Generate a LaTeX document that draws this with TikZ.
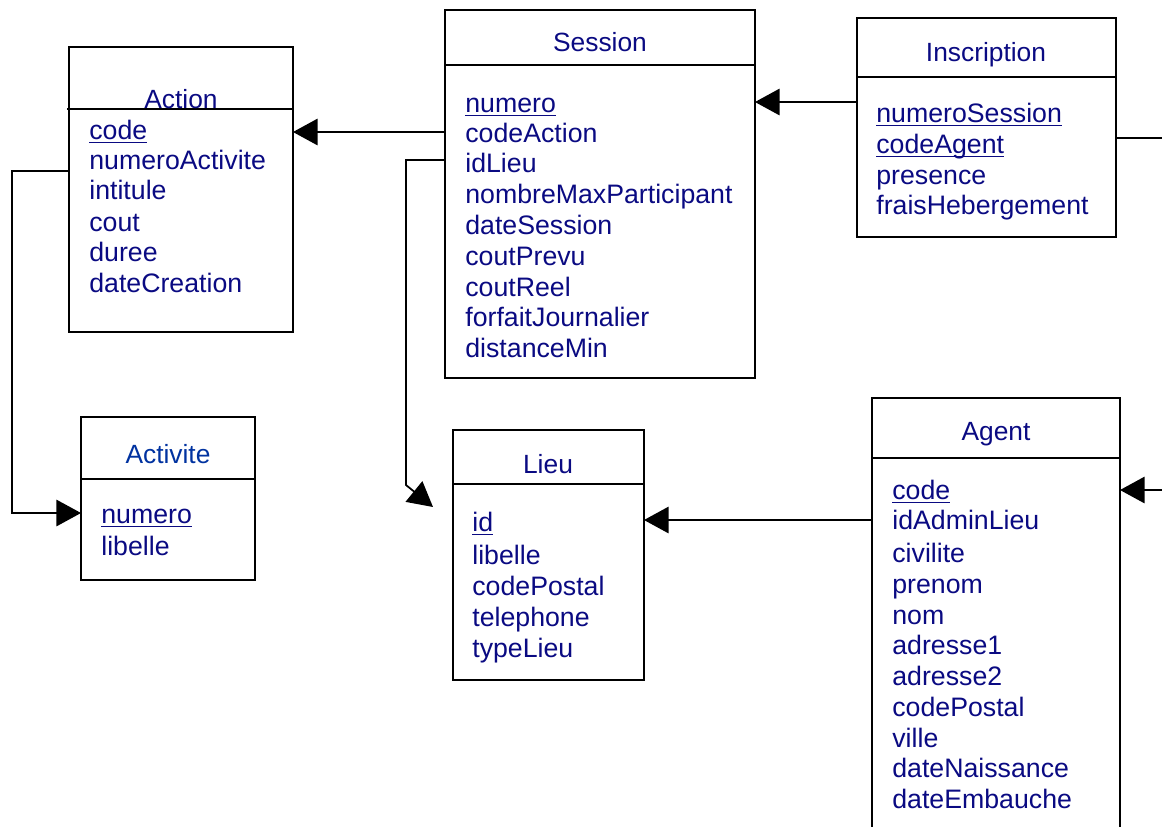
\documentclass[tikz,border=0pt]{standalone}
\usepackage{fontspec}
\setmainfont{Liberation Sans}
\usetikzlibrary{arrows.meta}
\definecolor{navy}{RGB}{10,10,130}
\definecolor{royal}{RGB}{0,50,160}
\newcommand{\cle}[1]{\underline{\smash{#1}}}
\tikzset{entity/.style = {draw, line width=1pt, inner sep=0pt, outer sep=0pt}}
\tikzset{title/.style = {text=navy, font=\fontsize{15}{18}\selectfont}}
\tikzset{attr/.style = {anchor=west, text=navy, yshift=-0.1cm, inner sep=0pt, text height=0.75em, text depth=0.25em, font=\fontsize{15.2}{18}\selectfont}}
\tikzset{edge/.style = {->, >={Triangle[length=14pt,width=15pt]}, line width=1pt}}

\begin{document}
\begin{tikzpicture}[x=0.02cm,y=-0.02cm]
\useasboundingbox (0,0) rectangle (1162,826);

% Action
\node[entity, minimum width=4.48cm, minimum height=5.7cm] (action) at (181,189.5) {};
\draw[entity] (67,109) -- (action.east |- 0,109);
\node[title] (actionT) at (181,99) {Action};
\node[attr] (a1) at (89,130) {\cle{code}};
\node[attr] (a2) at (89,160) {numeroActivite};
\node[attr] (a3) at (89,190) {intitule};
\node[attr] (a4) at (89,222) {cout};
\node[attr] (a5) at (89,252) {duree};
\node[attr] (a6) at (89,283) {dateCreation};

% Session
\node[entity, minimum width=6.2cm, minimum height=7.36cm] (session) at (600,194) {};
\draw[entity] (session.west |- 0,65) -- (session.east |- 0,65);
\node[title] (sessionT) at (600,42) {Session};
\node[attr] (s1) at (465,103) {\cle{numero}};
\node[attr] (s2) at (465,133) {codeAction};
\node[attr] (s3) at (465,163) {idLieu};
\node[attr] (s4) at (465,194) {nombreMaxParticipant};
\node[attr] (s5) at (465,225) {dateSession};
\node[attr] (s6) at (465,256) {coutPrevu};
\node[attr] (s7) at (465,287) {coutReel};
\node[attr] (s8) at (465,317) {forfaitJournalier};
\node[attr] (s9) at (465,348) {distanceMin};

% Inscription
\node[entity, minimum width=5.18cm, minimum height=4.38cm] (inscription) at (986.5,127.5) {};
\draw[entity] (inscription.west |- 0,77) -- (inscription.east |- 0,77);
\node[title] (inscriptionT) at (986,55) {Inscription};
\node[attr] (i1) at (876,113) {\cle{numeroSession}};
\node[attr] (i2) at (876,144) {\cle{codeAgent}};
\node[attr] (i3) at (876,175) {presence};
\node[attr] (i4) at (876,205) {fraisHebergement};

% Activite
\node[entity, minimum width=3.48cm, minimum height=3.26cm] (activite) at (168,498.5) {};
\draw[entity] (activite.west |- 0,479) -- (activite.east |- 0,479);
\node[title, text=royal] (activiteT) at (168,454) {Activite};
\node[attr] (v1) at (101,514) {\cle{numero}};
\node[attr] (v2) at (101,546) {libelle};

% Lieu
\node[entity, minimum width=3.82cm, minimum height=5cm] (lieu) at (548.5,555) {};
\draw[entity] (lieu.west |- 0,484) -- (lieu.east |- 0,484);
\node[title] (lieuT) at (548,464) {Lieu};
\node[attr] (l1) at (472,522) {\cle{id}};
\node[attr] (l2) at (472,555) {libelle};
\node[attr] (l3) at (472,586) {codePostal};
\node[attr] (l4) at (472,617) {telephone};
\node[attr] (l5) at (472,648) {typeLieu};

% Agent
\node[entity, minimum width=4.96cm, minimum height=9.24cm] (agent) at (996,629) {};
\draw[entity] (agent.west |- 0,458) -- (agent.east |- 0,458);
\node[title] (agentT) at (996,434) {Agent};
\node[attr] (g1) at (892,490) {\cle{code}};
\node[attr] (g2) at (892,520) {idAdminLieu};
\node[attr] (g3) at (892,553) {civilite};
\node[attr] (g4) at (892,584) {prenom};
\node[attr] (g5) at (892,615) {nom};
\node[attr] (g6) at (892,645) {adresse1};
\node[attr] (g7) at (892,676) {adresse2};
\node[attr] (g8) at (892,707) {codePostal};
\node[attr] (g9) at (892,738) {ville};
\node[attr] (g10) at (892,768) {dateNaissance};
\node[attr] (g11) at (892,799) {dateEmbauche};

% liens
\coordinate (coin1) at (12,171);
\coordinate (coin2) at (406,485);
\coordinate (lieuTip) at (433,507);
\coordinate (insc) at (857,102);
\coordinate (horsA) at (1170,138);
\coordinate (horsB) at (1170,490);
\coordinate (actRef) at (0,132);
\coordinate (lieuRef) at (0,160);
\coordinate (actiRef) at (0,513);
\coordinate (agRef) at (0,520);

\draw[edge] (session.west |- actRef) -- (action.east |- actRef);
\draw[edge] (action.west |- coin1) -- (coin1) |- (activite.west |- actiRef);
\draw[edge] (session.west |- lieuRef) -| (coin2) -- (lieuTip);
\draw[edge] (agent.west |- agRef) -- (lieu.east |- agRef);
\draw[edge] (insc) -- (session.east |- insc);
\draw[line width=1pt] (inscription.east |- horsA) -- (horsA);
\draw[edge] (horsB) -- (agent.east |- horsB);

\end{tikzpicture}
\end{document}
